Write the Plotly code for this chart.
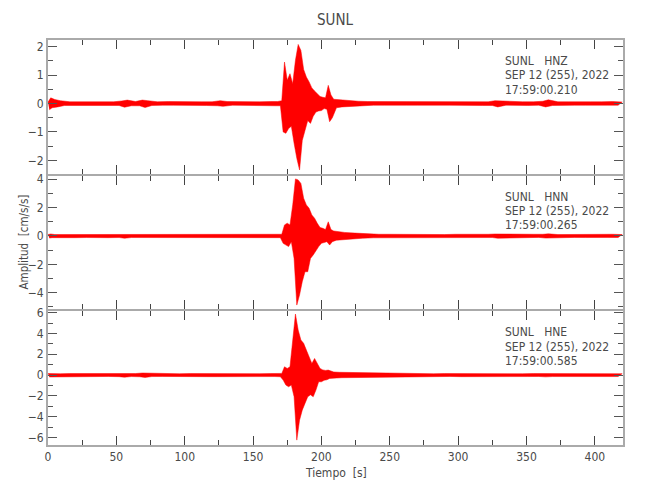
import plotly.graph_objects as go
from plotly.subplots import make_subplots

# ---- data (time in s, decimated peak samples) ----
T = [0, 1, 2, 3, 5, 7, 9, 12, 16, 20,
     24, 28, 32, 36, 40, 44, 48, 52, 54, 56,
     58, 61, 64, 67, 69, 71, 73, 76, 80, 84,
     88, 92, 96, 100, 104, 108, 112, 116, 120, 124,
     126, 128, 131, 135, 139, 143, 147, 151, 155, 159,
     163, 166, 168, 170,
     171, 172, 173, 174, 175, 176, 177, 178, 179, 180,
     181, 182, 183, 184, 185, 186, 187, 188, 189, 190,
     191, 192, 193, 194, 195, 196, 197, 198, 199, 200,
     201, 202, 203, 204, 205, 206, 207, 208, 209,
     211, 213, 215, 217, 219, 221, 224, 227, 230, 234,
     238, 242, 246, 250, 254, 258, 262, 266, 270, 274,
     278, 282, 286, 290, 294, 298, 302, 306, 310, 314,
     318, 322, 325, 327, 329, 331, 335, 339, 343, 347,
     351, 355, 359, 362, 364, 366, 369, 373, 377, 381,
     385, 389, 393, 397, 401, 405, 409, 413, 417, 420]

HNZ = [0.05, -0.22, 0.2, -0.15, 0.14, -0.12, 0.1, -0.07, 0.06, -0.07,
       0.06, -0.06, 0.07, -0.06, 0.06, -0.07, 0.06, -0.07, 0.09, -0.13,
       0.12, -0.08, 0.07, -0.08, 0.12, -0.14, 0.1, -0.07, 0.06, -0.06,
       0.07, -0.06, 0.06, -0.07, 0.06, -0.06, 0.06, -0.07, 0.06, -0.08,
       0.1, -0.1, 0.07, -0.06, 0.06, -0.07, 0.06, -0.07, 0.06, -0.07,
       0.07, -0.08, 0.07, -0.08,
       0.1, -1.0, 1.46, -1.05, 0.82, -0.88, 1.05, -0.8, 0.7, -1.4,
       1.52, -1.93, 2.08, -2.34, 1.87, -1.3, 1.2, -0.96, 0.93, -0.6,
       0.76, -0.7, 0.55, -0.45, 0.44, -0.3, 0.33, -0.26, 0.25, -0.25,
       0.22, -0.18, 0.2, -0.2, 0.64, -0.64, 0.3, -0.5, 0.15,
       -0.15, 0.13, -0.12, 0.12, -0.1, 0.1, -0.09, 0.08, -0.08, 0.07,
       -0.06, 0.07, -0.06, 0.06, -0.07, 0.06, -0.06, 0.07, -0.06, 0.06,
       -0.07, 0.06, -0.06, 0.07, -0.06, 0.06, -0.06, 0.07, -0.06, 0.06,
       -0.07, 0.06, -0.07, 0.1, -0.12, 0.09, -0.06, 0.07, -0.06, 0.06,
       -0.07, 0.06, -0.06, 0.08, -0.12, 0.13, -0.07, 0.06, -0.07, 0.06,
       -0.06, 0.07, -0.06, 0.06, -0.07, 0.06, -0.06, 0.07, -0.06, 0.05]

HNN = [0.1, -0.15, 0.14, -0.12, 0.1, -0.12, 0.1, -0.11, 0.1, -0.12,
       0.1, -0.11, 0.12, -0.1, 0.11, -0.12, 0.1, -0.11, 0.13, -0.16,
       0.14, -0.11, 0.1, -0.12, 0.13, -0.14, 0.12, -0.1, 0.11, -0.12,
       0.1, -0.11, 0.12, -0.1, 0.11, -0.12, 0.1, -0.11, 0.12, -0.12,
       0.13, -0.13, 0.11, -0.1, 0.12, -0.11, 0.1, -0.12, 0.11, -0.1,
       0.12, -0.12, 0.11, -0.12,
       0.12, -0.52, 0.78, -0.64, 0.9, -0.75, 0.78, -0.4, 2.19, -1.58,
       4.02, -4.87, 3.95, -4.16, 3.7, -3.22, 2.66, -2.52, 2.19, -2.52,
       1.95, -1.58, 1.48, -1.34, 1.25, -1.1, 0.89, -0.75, 0.6, -0.52,
       0.54, -0.45, 0.45, -0.4, 1.0, -0.64, 0.45, -0.4, 0.35,
       -0.3, 0.28, -0.27, 0.25, -0.25, 0.22, -0.2, 0.18, -0.16, 0.15,
       -0.13, 0.12, -0.11, 0.12, -0.1, 0.11, -0.12, 0.1, -0.11, 0.12,
       -0.1, 0.11, -0.12, 0.1, -0.11, 0.12, -0.1, 0.11, -0.12, 0.1,
       -0.11, 0.12, -0.11, 0.14, -0.16, 0.13, -0.1, 0.11, -0.12, 0.1,
       -0.11, 0.12, -0.1, 0.12, -0.15, 0.15, -0.11, 0.1, -0.12, 0.11,
       -0.1, 0.12, -0.11, 0.1, -0.12, 0.11, -0.1, 0.12, -0.11, 0.1]

HNE = [0.15, -0.18, 0.16, -0.15, 0.14, -0.15, 0.13, -0.14, 0.15, -0.13,
       0.14, -0.15, 0.13, -0.14, 0.15, -0.13, 0.14, -0.15, 0.17, -0.2,
       0.16, -0.14, 0.15, -0.16, 0.2, -0.22, 0.18, -0.14, 0.15, -0.13,
       0.14, -0.15, 0.13, -0.14, 0.15, -0.13, 0.14, -0.15, 0.13, -0.15,
       0.16, -0.15, 0.14, -0.13, 0.15, -0.14, 0.13, -0.15, 0.14, -0.13,
       0.15, -0.14, 0.15, -0.16,
       0.16, -0.48, 0.8, -0.96, 0.64, -1.12, 0.8, -0.96, 3.05, -2.08,
       5.87, -6.25, 4.33, -4.33, 3.37, -3.37, 3.05, -2.72, 2.4, -2.08,
       1.76, -1.9, 1.12, -2.08, 1.6, -1.44, 1.12, -0.64, 0.64, -0.64,
       0.5, -0.5, 0.45, -0.45, 0.48, -0.32, 0.35, -0.3, 0.3,
       -0.28, 0.27, -0.25, 0.26, -0.24, 0.23, -0.22, 0.2, -0.2, 0.18,
       -0.17, 0.16, -0.15, 0.16, -0.14, 0.15, -0.14, 0.15, -0.13, 0.14,
       -0.15, 0.13, -0.14, 0.15, -0.13, 0.14, -0.15, 0.13, -0.14, 0.15,
       -0.13, 0.14, -0.15, 0.16, -0.18, 0.15, -0.13, 0.14, -0.15, 0.13,
       -0.14, 0.15, -0.13, 0.15, -0.17, 0.16, -0.14, 0.13, -0.15, 0.14,
       -0.13, 0.15, -0.14, 0.13, -0.15, 0.14, -0.13, 0.15, -0.14, 0.13]

CHANNELS = ["HNZ", "HNN", "HNE"]
START_TIMES = ["17:59:00.210", "17:59:00.265", "17:59:00.585"]
STATION = "SUNL"
DATE_LABEL = "SEP 12 (255), 2022"
Y_RANGES = [[-2.47, 2.236], [-5.17, 4.25], [-6.72, 6.13]]
Y_DTICK = [1, 2, 2]
X_RANGE = [0, 420.6]

assert len(T) == len(HNZ) == len(HNN) == len(HNE), (len(T), len(HNZ), len(HNN), len(HNE))

FONT = "DejaVu Sans Condensed, Liberation Sans Narrow, Arial Narrow, sans-serif"
TXT = "#4a4a4a"
RED = "#ff0000"

# plot area (px): height 405, three panels separated by 2px line gaps
H = 405.0
GAP = 2.0
PH = (H - 2 * GAP) / 3.0
DOMAINS = [[(2 * PH + 2 * GAP) / H, 1.0],
           [(PH + GAP) / H, (2 * PH + GAP) / H],
           [0.0, PH / H]]

fig = make_subplots(rows=3, cols=1, shared_xaxes=False, vertical_spacing=0)

for i, vals in enumerate([HNZ, HNN, HNE]):
    up = [(t, v) for t, v in zip(T, vals) if v > 0]
    lo = [(t, v) for t, v in zip(T, vals) if v < 0]
    xs = [p[0] for p in up] + [p[0] for p in lo[::-1]]
    ys = [p[1] for p in up] + [p[1] for p in lo[::-1]]
    fig.add_trace(go.Scatter(x=xs, y=ys, mode="lines", fill="toself",
                             fillcolor=RED, line=dict(color=RED, width=0.5),
                             showlegend=False, hoverinfo="skip"),
                  row=i + 1, col=1)

for i in range(3):
    r = i + 1
    fig.update_xaxes(range=X_RANGE, tick0=0, dtick=50, ticks="inside", ticklen=9,
                     tickwidth=1, tickcolor="#444", showline=True, linecolor="#aaaaaa",
                     linewidth=2, mirror="allticks", showgrid=False, zeroline=False,
                     showticklabels=(r == 3),
                     tickfont=dict(family=FONT, size=12, color=TXT),
                     minor=dict(dtick=25, tick0=0, ticks="inside", ticklen=5,
                                tickcolor="#444", showgrid=False),
                     row=r, col=1)
    fig.update_yaxes(range=Y_RANGES[i], tick0=0, dtick=Y_DTICK[i], ticks="inside",
                     ticklen=9, tickwidth=1, tickcolor="#555", showline=True,
                     linecolor="#aaaaaa", linewidth=2, mirror="allticks",
                     showgrid=False, zeroline=False, domain=DOMAINS[i],
                     tickfont=dict(family=FONT, size=12, color=TXT),
                     minor=dict(dtick=Y_DTICK[i] / 2, tick0=0, ticks="inside",
                                ticklen=5, tickcolor="#555", showgrid=False),
                     row=r, col=1)

annotations = []
axis_ids = ["", "2", "3"]
for i in range(3):
    lines = [STATION + "\u00a0\u00a0\u00a0" + CHANNELS[i], DATE_LABEL, START_TIMES[i]]
    for j, ln in enumerate(lines):
        annotations.append(dict(text=ln, xref="x%s domain" % axis_ids[i],
                                yref="y%s domain" % axis_ids[i],
                                x=0.791, y=1 - (21 + 14.3 * j) / PH,
                                xanchor="left", yanchor="middle", showarrow=False,
                                font=dict(family=FONT, size=12, color=TXT)))

annotations.append(dict(text=STATION, xref="paper", yref="paper", x=0.5, y=1 + 20 / H,
                        xanchor="center", yanchor="middle", showarrow=False,
                        font=dict(family=FONT, size=15, color=TXT)))
annotations.append(dict(text="Tiempo\u00a0\u00a0[s]", xref="paper", yref="paper", x=0.5,
                        y=-28 / H, xanchor="center", yanchor="middle", showarrow=False,
                        font=dict(family=FONT, size=12, color=TXT)))
annotations.append(dict(text="Amplitud\u00a0\u00a0[cm/s/s]", xref="paper", yref="paper",
                        x=-25 / 575.0, y=0.5, xanchor="center", yanchor="middle",
                        textangle=-90, showarrow=False,
                        font=dict(family=FONT, size=11.5, color=TXT)))

# page body has an 8px offset in the browser, margins compensate for it
fig.update_layout(width=650, height=500, margin=dict(l=40, r=35, t=32, b=63),
                  plot_bgcolor="white", paper_bgcolor="white",
                  annotations=annotations)

fig.write_html("out.html")
